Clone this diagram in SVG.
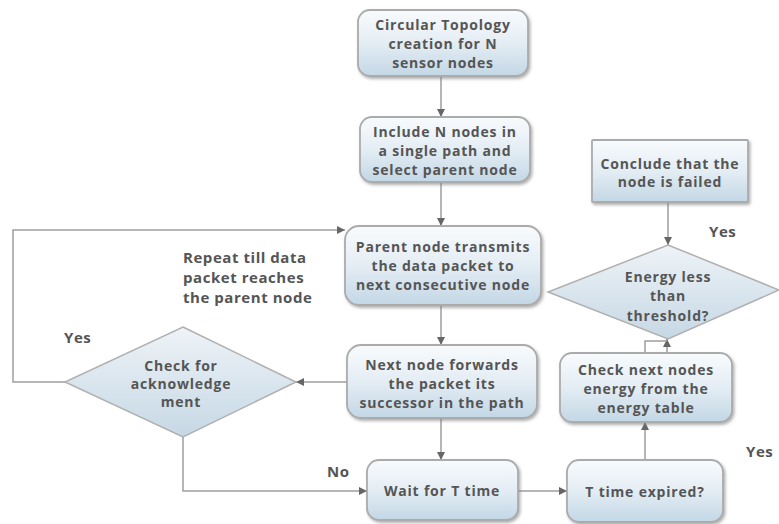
<svg xmlns="http://www.w3.org/2000/svg" width="779" height="524" viewBox="0 0 779 524">
<defs>
<linearGradient id="g" x1="0" y1="0" x2="0" y2="1">
<stop offset="0" stop-color="#f8fbfd"/>
<stop offset="0.5" stop-color="#e4edf4"/>
<stop offset="1" stop-color="#c3d7e5"/>
</linearGradient>
<linearGradient id="gd" x1="0" y1="0" x2="0" y2="1">
<stop offset="0" stop-color="#eef3f7"/>
<stop offset="1" stop-color="#c6d8e5"/>
</linearGradient>
<filter id="sh" x="-10%" y="-10%" width="125%" height="130%">
<feDropShadow dx="1.5" dy="2" stdDeviation="1.5" flood-color="#7a7a7a" flood-opacity="0.6"/>
</filter>
<marker id="ah" viewBox="0 0 10 10" refX="10" refY="5" markerWidth="8" markerHeight="8" markerUnits="userSpaceOnUse" orient="auto">
<path d="M0,0 L10,5 L0,10 z" fill="#666"/>
</marker>
</defs>
<style>
.box{fill:url(#g);stroke:#ababab;stroke-width:1.8;filter:url(#sh)}
.dia{fill:url(#gd);stroke:#b0b0b0;stroke-width:1.5}
.t{font-family:"Open Sans","DejaVu Sans",sans-serif;font-weight:700;font-size:14px;fill:#555555;text-anchor:middle;letter-spacing:0.8px}
.lbl{font-family:"Open Sans","DejaVu Sans",sans-serif;font-weight:700;font-size:15px;fill:#555555;letter-spacing:0.55px}
.c{fill:none;stroke:#9e9e9e;stroke-width:1.5}
.ca{fill:none;stroke:#9e9e9e;stroke-width:1.5;marker-end:url(#ah)}
</style>
<rect width="779" height="524" fill="#ffffff"/>

<g id="connectors">
<line class="ca" x1="441" y1="76" x2="441" y2="117"/>
<line class="ca" x1="441" y1="182" x2="441" y2="226"/>
<line class="ca" x1="441" y1="305" x2="441" y2="345"/>
<line class="ca" x1="441" y1="418" x2="441" y2="460"/>
<line class="ca" x1="347" y1="382" x2="296" y2="382"/>
<polyline class="ca" points="65,382 13,382 13,230 345,230"/>
<polyline class="ca" points="183,437 183,491 367,491"/>
<line class="ca" x1="518" y1="491" x2="567" y2="491"/>
<line class="ca" x1="645" y1="460" x2="645" y2="422"/>
<line class="ca" x1="667" y1="353" x2="667" y2="339"/>
<polyline class="c" points="645,353 645,341 667,341"/>
<line class="ca" x1="668" y1="202" x2="668" y2="245"/>
</g>

<g id="n1">
<rect class="box" x="358" y="10" width="170" height="66" rx="12"/>
<text class="t" x="443" y="30">Circular Topology</text>
<text class="t" x="443" y="49">creation for N</text>
<text class="t" x="443" y="68">sensor nodes</text>
</g>

<g id="n2">
<rect class="box" x="360" y="117" width="170" height="65" rx="12"/>
<text class="t" x="445" y="137">Include N nodes in</text>
<text class="t" x="445" y="156">a single path and</text>
<text class="t" x="445" y="175">select parent node</text>
</g>

<g id="n3">
<rect class="box" x="345" y="226" width="196" height="79" rx="14"/>
<text class="t" x="443" y="252">Parent node transmits</text>
<text class="t" x="443" y="271">the data packet to</text>
<text class="t" x="443" y="290">next consecutive node</text>
</g>

<g id="n4">
<rect class="box" x="347" y="345" width="190" height="73" rx="14"/>
<text class="t" x="442" y="370">Next node forwards</text>
<text class="t" x="442" y="389">the packet its</text>
<text class="t" x="442" y="408">successor in the path</text>
</g>

<g id="n5">
<rect class="box" x="367" y="460" width="151" height="60" rx="12"/>
<text class="t" x="442" y="496">Wait for T time</text>
</g>

<g id="n6">
<rect class="box" x="567" y="460" width="156" height="62" rx="12"/>
<text class="t" x="645" y="497">T time expired?</text>
</g>

<g id="n7">
<rect class="box" x="560" y="353" width="172" height="69" rx="12"/>
<text class="t" x="646" y="375">Check next nodes</text>
<text class="t" x="646" y="394">energy from the</text>
<text class="t" x="646" y="413">energy table</text>
</g>

<g id="n8">
<rect class="box" x="592" y="140" width="156" height="62" rx="1"/>
<text class="t" x="670" y="169">Conclude that the</text>
<text class="t" x="670" y="187">node is failed</text>
</g>

<g id="d1">
<polygon class="dia" points="183,327 296,382 183,437 65,382"/>
<text class="t" x="181" y="371">Check for</text>
<text class="t" x="181" y="389">acknowledge</text>
<text class="t" x="181" y="407">ment</text>
</g>

<g id="d2">
<polygon class="dia" points="668,245 779,290 668,339 548,292"/>
<text class="t" x="668" y="282">Energy less</text>
<text class="t" x="668" y="301">than</text>
<text class="t" x="668" y="321">threshold?</text>
</g>

<g id="labels">
<text class="lbl" x="183" y="263">Repeat till data</text>
<text class="lbl" x="183" y="283">packet reaches</text>
<text class="lbl" x="183" y="303">the parent node</text>
<text class="lbl" x="64" y="343">Yes</text>
<text class="lbl" x="709" y="237">Yes</text>
<text class="lbl" x="327" y="477">No</text>
<text class="lbl" x="746" y="457">Yes</text>
</g>
</svg>
